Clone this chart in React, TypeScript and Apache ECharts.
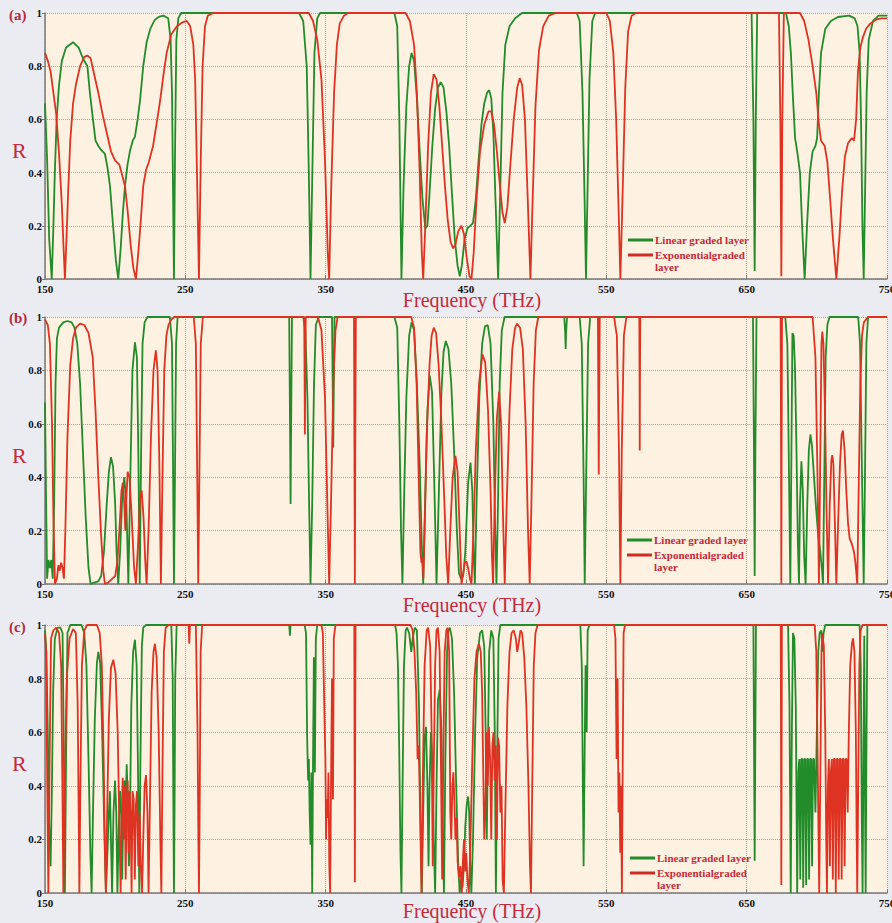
import { useEffect, useRef } from 'react';
import * as echarts from 'echarts';

const xTicks = [150, 250, 350, 450, 550, 650, 750];
const yTicks = [0, 0.2, 0.4, 0.6, 0.8, 1];
const panelLabels = ['(a)', '(b)', '(c)'];
const seriesNames = ['Linear graded layer', 'Exponentialgraded layer'];
const xTitle = 'Frequency (THz)';
const yTitle = 'R';

// Panel (a)
const aLinear = [
  [150, 0.66], [151.5, 0.45], [153, 0.15], [154.8, 0], [156, 0.2], [157, 0.4], [158.3, 0.6], [160, 0.73], [162, 0.82], [165, 0.87], [170, 0.89],
  [174, 0.87], [177, 0.83], [180.2, 0.8], [182, 0.7], [184.4, 0.59], [186, 0.52], [188, 0.5], [190, 0.485], [192.7, 0.47], [194.5, 0.42], [196.3, 0.35],
  [198.5, 0.2], [200.5, 0.07], [202.2, 0], [204, 0.12], [205.5, 0.25], [207, 0.35], [208.8, 0.43], [210.5, 0.48], [212.5, 0.52], [214.1, 0.535],
  [216, 0.6], [217.7, 0.67], [220, 0.8], [222.4, 0.89], [225, 0.94], [228.3, 0.975], [231, 0.985], [234.3, 0.99], [237.8, 0.98], [239.5, 0.9],
  [240.5, 0.7], [241.3, 0.3], [241.9, 0], [242.7, 0.5], [243.6, 0.9], [245, 0.98], [247, 1],
  [331, 1], [334, 0.97], [336.5, 0.8], [338, 0.4], [339.2, 0], [340.5, 0.4], [342, 0.85], [344, 0.98], [346, 1],
  [399, 1], [401, 0.95], [402.5, 0.6], [404, 0], [405.5, 0.35], [407.5, 0.65], [409.5, 0.8], [411.2, 0.85], [413, 0.82], [415, 0.68], [417, 0.48],
  [419, 0.3], [421, 0.19], [422.5, 0.2], [424, 0.32], [426, 0.5], [428, 0.64], [430, 0.72], [432, 0.74], [434, 0.72], [436, 0.63], [438, 0.5],
  [440, 0.32], [442, 0.15], [444, 0.05], [445.6, 0.01], [447, 0.05], [449, 0.15], [451, 0.19], [453, 0.2], [455, 0.21], [457, 0.3], [459, 0.45],
  [461, 0.58], [463, 0.66], [465, 0.7], [466.5, 0.71], [468, 0.68], [469.5, 0.55], [471, 0.3], [472.9, 0], [474.5, 0.35], [476, 0.7], [478, 0.88],
  [481, 0.95], [485, 0.98], [490, 1],
  [529, 1], [531, 0.97], [533, 0.7], [534.5, 0.3], [535.5, 0], [536.5, 0.3], [538, 0.75], [540, 0.97], [542, 1],
  [653.5, 1], [654.8, 0.6], [655.7, 0.03], [656.5, 0.6], [657.5, 1],
  [678, 1], [680, 0.95], [681.5, 0.85], [683, 0.68], [684.5, 0.53], [686, 0.48], [688, 0.4], [689.5, 0.2], [691.3, 0], [693, 0.2], [695, 0.4],
  [697, 0.48], [699, 0.5], [700.2, 0.53], [701.5, 0.7], [703, 0.85], [706, 0.94], [710, 0.97], [715, 0.985], [723, 0.99], [727, 0.98], [729, 0.95],
  [730.5, 0.85], [731.5, 0.6], [732.5, 0.2], [733.4, 0], [734.3, 0.3], [735.5, 0.7], [737, 0.9], [740, 0.97], [744, 0.99], [750, 0.99],
];
const aExp = [
  [150, 0.85], [152, 0.82], [154, 0.78], [156, 0.7], [158, 0.62], [160, 0.47], [162, 0.28], [163.2, 0.12], [164.2, 0], [165.3, 0.15], [166.6, 0.34],
  [168, 0.52], [170, 0.66], [172, 0.73], [175, 0.8], [178, 0.835], [180.2, 0.84], [182.5, 0.83], [185, 0.77], [188, 0.7], [191, 0.62], [194, 0.55],
  [197, 0.48], [200, 0.445], [203, 0.43], [205, 0.39], [207, 0.35], [209, 0.25], [211, 0.13], [213, 0.04], [214.8, 0], [216.5, 0.1], [218, 0.2],
  [220, 0.35], [222, 0.41], [224, 0.44], [227, 0.5], [230, 0.6], [232, 0.67], [234.5, 0.77], [236.7, 0.85], [240, 0.92], [244, 0.95], [248, 0.965],
  [251, 0.97], [253.5, 0.95], [255.7, 0.88], [257, 0.75], [258.3, 0.4], [259.7, 0], [261, 0.45], [262.3, 0.8], [264, 0.95], [266, 0.99], [270, 1],
  [338, 1], [341, 0.97], [344, 0.9], [347, 0.75], [349.5, 0.45], [351.5, 0.1], [352.5, 0], [354, 0.35], [356, 0.7], [358, 0.88], [360, 0.96],
  [363, 0.99], [366, 1],
  [407, 1], [410, 0.97], [413, 0.88], [415, 0.7], [417, 0.4], [418.5, 0.1], [419.5, 0], [421, 0.2], [423, 0.5], [425, 0.7], [427, 0.77], [429, 0.75],
  [431, 0.65], [433, 0.5], [435, 0.35], [437, 0.22], [439, 0.14], [440.8, 0.115], [442.5, 0.13], [444.5, 0.18], [446.8, 0.2], [448.5, 0.17],
  [450.5, 0.08], [452.5, 0.01], [453.9, 0], [455.5, 0.1], [457.5, 0.3], [460, 0.48], [463, 0.58], [466, 0.63], [468, 0.63], [470, 0.58], [472, 0.48],
  [474, 0.36], [476, 0.25], [477.6, 0.21], [479.5, 0.27], [481.5, 0.42], [484, 0.6], [486.5, 0.72], [488.3, 0.755], [490, 0.73], [492, 0.6],
  [494, 0.3], [495.9, 0], [497.5, 0.3], [499.5, 0.65], [502, 0.86], [505, 0.95], [509, 0.99], [514, 1],
  [550, 1], [552.5, 0.97], [555, 0.85], [557, 0.6], [558.8, 0.25], [560, 0], [561.5, 0.3], [563.5, 0.72], [565.5, 0.93], [568, 0.99], [571, 1],
  [673, 1], [674, 0.6], [674.7, 0.01], [675.4, 0.6], [676.5, 1],
  [688, 1], [691, 0.97], [694, 0.9], [697, 0.8], [699.6, 0.7], [701.5, 0.58], [703, 0.52], [705.6, 0.5], [707.5, 0.44], [709.5, 0.3], [711.5, 0.15],
  [713.9, 0], [716, 0.15], [718, 0.33], [720, 0.46], [722.2, 0.51], [723.5, 0.52], [725, 0.53], [726.5, 0.52], [728, 0.6], [729.3, 0.78],
  [731, 0.87], [732.9, 0.91], [735, 0.94], [738, 0.96], [742, 0.975], [746, 0.98], [750, 0.98],
];

// Panel (b)
const bLinear = [
  [150, 0.68], [150.8, 0.3], [151.5, 0.02], [152.5, 0.09], [153.5, 0.06], [154.5, 0.09], [155.5, 0.02], [156.5, 0.3], [157.5, 0.75], [158.5, 0.92],
  [160, 0.96], [163, 0.98], [166, 0.985], [169, 0.98], [171, 0.96], [173, 0.9], [175, 0.75], [177, 0.5], [179, 0.25], [181, 0.06], [182.5, 0],
  [185, 0.005], [188, 0.01], [190, 0.03], [192, 0.12], [194, 0.3], [195.5, 0.42], [197, 0.475], [198.5, 0.44], [200, 0.3], [201, 0.12], [202.2, 0],
  [203.5, 0.12], [205, 0.32], [206.5, 0.4], [208, 0.3], [209.4, 0], [210.8, 0.4], [212.3, 0.8], [214.1, 0.905], [215.5, 0.85], [216.5, 0.5],
  [217.5, 0], [218.5, 0.5], [219.5, 0.9], [221, 0.98], [223, 1],
  [239, 1], [240.5, 0.9], [241.3, 0.4], [241.9, 0], [242.6, 0.4], [243.4, 0.9], [244.5, 1],
  [324, 1], [324.6, 0.6], [325, 0.3], [325.4, 0.6], [326, 1],
  [334, 1], [335.5, 0.95], [337, 0.7], [338.2, 0.3], [339.2, 0], [340.4, 0.3], [341.7, 0.75], [343, 0.97], [345, 1],
  [354.5, 1], [355, 0.75], [355.4, 0.51], [355.8, 0.75], [356.3, 1],
  [399, 1], [401, 0.96], [402.5, 0.6], [403.7, 0.2], [404.7, 0], [406, 0.35], [407.5, 0.7], [409.5, 0.93], [411.2, 0.98], [413, 0.95], [415, 0.75],
  [417, 0.45], [418.5, 0.15], [419.5, 0], [420.8, 0.3], [422.5, 0.65], [424.2, 0.78], [425.8, 0.72], [427.3, 0.4], [429, 0], [430.7, 0.35],
  [432.5, 0.72], [434, 0.87], [435.6, 0.91], [437.5, 0.88], [439.5, 0.75], [441.5, 0.5], [443.5, 0.2], [445, 0.04], [446.5, 0.02], [448, 0.03],
  [449.5, 0.12], [451.5, 0.38], [453.2, 0.455], [454.5, 0.35], [455.5, 0.1], [456.3, 0], [457.5, 0.3], [459.5, 0.7], [461.5, 0.9], [463.5, 0.965],
  [465.5, 0.97], [467.5, 0.9], [469.5, 0.6], [470.8, 0.2], [471.7, 0], [472.8, 0.3], [474, 0.75], [475.5, 0.95], [477.5, 1],
  [520, 1], [520.7, 0.94], [521, 0.88], [521.3, 0.94], [522, 1],
  [531, 1], [532.5, 0.9], [533.8, 0.4], [534.6, 0], [535.5, 0.35], [537, 0.9], [538.5, 1],
  [654.5, 1], [655.2, 0.5], [655.7, 0.03], [656.2, 0.5], [657, 1],
  [677.5, 1], [679, 0.9], [680.2, 0.4], [681.1, 0], [681.9, 0.5], [682.6, 0.94], [683.5, 0.93], [684.5, 0.8], [685.5, 0.5], [686.5, 0.15],
  [687.3, 0], [688, 0.3], [689, 0.46], [690, 0.35], [691, 0.1], [692, 0], [693.2, 0.3], [694.3, 0.5], [695.4, 0.56], [696.5, 0.52], [698, 0.4],
  [699.5, 0.28], [701, 0.18], [702.5, 0.12], [703.7, 0.05], [704.4, 0], [705.3, 0.4], [706.3, 0.85], [707.5, 0.97], [709, 1],
  [729.5, 1], [730.8, 0.9], [732.2, 0.4], [733.4, 0], [734.3, 0.4], [735.3, 0.9], [736.5, 1], [750, 1],
];
const bExp = [
  [150, 0.99], [152, 0.97], [153.5, 0.9], [155, 0.6], [156, 0.25], [157.1, 0], [158.5, 0.02], [159.5, 0.07], [160.5, 0.05], [161.5, 0.08],
  [162.5, 0.06], [163.5, 0.02], [164.5, 0.2], [166, 0.55], [168, 0.82], [170, 0.92], [172, 0.96], [175, 0.975], [178, 0.97], [181, 0.94],
  [184, 0.85], [186, 0.65], [188, 0.4], [190, 0.18], [191.5, 0.05], [192.7, 0], [195, 0.005], [198, 0.02], [200, 0.03], [201.5, 0.08], [203, 0.2],
  [204.5, 0.35], [205.5, 0.38], [206.5, 0.3], [207.2, 0.2], [207.8, 0.3], [208.9, 0.42], [210.2, 0.4], [211.8, 0.25], [213.5, 0.06], [214.8, 0],
  [216.3, 0.15], [217.7, 0.32], [218.9, 0.35], [220.2, 0.25], [221.5, 0.08], [222.4, 0], [223.8, 0.2], [225.5, 0.55], [227.3, 0.8], [229, 0.875],
  [230.2, 0.8], [231.5, 0.45], [232.6, 0], [233.7, 0.4], [235, 0.8], [236.5, 0.93], [238, 0.97], [240, 0.99], [242, 1],
  [256, 1], [257.5, 0.9], [258.5, 0.4], [259.2, 0], [260, 0.4], [261, 0.9], [262.5, 1],
  [334.7, 1], [335, 0.75], [335.2, 0.56], [335.4, 0.75], [335.8, 1],
  [344.5, 1], [347, 0.95], [349.5, 0.7], [351.2, 0.3], [352.5, 0], [353.8, 0.3], [355.5, 0.75], [357, 0.95], [358.5, 1],
  [370.2, 1], [370.5, 0.5], [370.8, 0], [371.1, 0.5], [371.5, 1],
  [411, 1], [413, 0.96], [414.8, 0.75], [416.3, 0.4], [417.5, 0.12], [418.3, 0.08], [419, 0.1], [419.6, 0.02], [420.5, 0.2], [422, 0.55],
  [424, 0.82], [425.5, 0.93], [427, 0.96], [428.7, 0.94], [430.5, 0.82], [432.5, 0.6], [434.5, 0.32], [436, 0.1], [437.3, 0], [438.8, 0.2],
  [440.5, 0.4], [442.5, 0.48], [444, 0.42], [445.5, 0.2], [446.8, 0], [448, 0.04], [449.2, 0.08], [450.3, 0.085], [451.5, 0.06], [452.8, 0.02],
  [453.9, 0], [455.3, 0.2], [457, 0.5], [459.3, 0.75], [461.7, 0.86], [463.7, 0.83], [465.7, 0.65], [467.5, 0.35], [468.5, 0.1], [469.3, 0],
  [470.4, 0.3], [472, 0.62], [473.6, 0.72], [475, 0.6], [476.4, 0.25], [477.6, 0], [479, 0.3], [481, 0.65], [483, 0.88], [485, 0.96],
  [486.4, 0.975], [488.5, 0.96], [490.5, 0.88], [492.5, 0.6], [494.2, 0.2], [495.4, 0], [496.6, 0.3], [498.2, 0.75], [499.8, 0.95], [501.5, 1],
  [544, 1], [544.3, 0.7], [544.6, 0.41], [544.9, 0.7], [545.3, 1],
  [555.5, 1], [557.5, 0.93], [559, 0.5], [560, 0], [561, 0.5], [562.5, 0.93], [564.3, 1],
  [573.5, 1], [573.7, 0.75], [573.8, 0.5], [573.95, 0.75], [574.2, 1],
  [674.2, 1], [674.5, 0.5], [674.7, 0], [674.9, 0.5], [675.2, 1],
  [697, 1], [699, 0.85], [700.5, 0.4], [701.5, 0], [702.5, 0.5], [703.3, 0.9], [703.9, 0.945], [704.7, 0.9], [705.8, 0.65], [707, 0.25], [708, 0],
  [709.2, 0.3], [710.3, 0.46], [711, 0.483], [711.8, 0.45], [713, 0.2], [713.9, 0], [715, 0.2], [716.5, 0.45], [717.7, 0.56], [718.6, 0.575],
  [719.8, 0.5], [721, 0.35], [722.2, 0.23], [723.4, 0.17], [725, 0.15], [726.5, 0.12], [727.5, 0.08], [728.8, 0], [729.8, 0.35], [731, 0.75],
  [732.2, 0.93], [733.5, 0.98], [736.4, 1], [750, 1],
];

// Panel (c)
const cLinear = [
  [150, 0.98], [151, 0.9], [152, 0.6], [153, 0.25], [154, 0.1], [154.8, 0.35], [155.8, 0.75], [157, 0.95], [159, 0.99], [161, 0.99], [162.5, 0.97],
  [163.5, 0.5], [164.2, 0], [165, 0.5], [166, 0.97], [168, 1], [176, 1], [178, 0.97], [179.5, 0.85], [181, 0.5], [182.3, 0.15], [183.2, 0],
  [184.2, 0.3], [185.5, 0.65], [187, 0.86], [188, 0.9], [189.3, 0.86], [190.5, 0.65], [192, 0.3], [193.4, 0], [194.5, 0.15], [195.5, 0.3],
  [196.3, 0.38], [197, 0.2], [197.8, 0], [198.8, 0.3], [199.9, 0.42], [200.8, 0.3], [201.6, 0], [202.6, 0.25], [203.5, 0.38], [204.3, 0.3],
  [205, 0.05], [205.8, 0.3], [206.6, 0.42], [207.4, 0.3], [208.2, 0.48], [209, 0.35], [209.8, 0.1], [210.6, 0.3], [211.5, 0.7], [212.8, 0.9],
  [214.1, 0.945], [215.3, 0.85], [216.3, 0.45], [217.2, 0], [218, 0.5], [219, 0.92], [220, 0.99], [222, 1],
  [240, 1], [241, 0.8], [241.5, 0.3], [241.9, 0], [242.3, 0.3], [242.8, 0.8], [243.8, 1],
  [324, 1], [324.3, 0.98], [324.5, 0.96], [324.7, 0.98], [325, 1],
  [335, 1], [336, 0.97], [336.8, 0.58], [337.5, 0.42], [338, 0.5], [338.6, 0.3], [339.2, 0.18], [339.8, 0.45], [340.4, 0], [341, 0.5],
  [341.6, 0.88], [342.3, 0.45], [343, 0.95], [344, 1],
  [399.5, 1], [400.5, 0.97], [401.5, 0.85], [402.5, 0.5], [403.3, 0.15], [404, 0], [404.8, 0.4], [405.8, 0.85], [407, 0.98], [408, 0.99],
  [409.5, 0.97], [411, 0.9], [412, 0.95], [413.5, 0.99], [415, 0.98], [416.5, 0.7], [417.5, 0.3], [418.5, 0], [419.5, 0.3], [420.5, 0.58],
  [421.5, 0.62], [422.5, 0.4], [423.3, 0.1], [424, 0.4], [425, 0.6], [426, 0.5], [427, 0.2], [428, 0], [429, 0.4], [430, 0.72], [431.3, 0.76],
  [432.5, 0.6], [433.5, 0.2], [434.3, 0], [435.3, 0.5], [436.5, 0.9], [437.5, 0.98], [438.5, 0.99], [440, 0.95], [441.5, 0.75], [443, 0.4],
  [444.5, 0.1], [445.5, 0], [446.5, 0.05], [447.5, 0.02], [448.5, 0.1], [449.5, 0.25], [450.5, 0.33], [451.5, 0.36], [452.3, 0.3], [453, 0.1],
  [453.8, 0], [455, 0.2], [456.5, 0.6], [458, 0.88], [460, 0.97], [461.5, 0.98], [463, 0.92], [464, 0.6], [464.8, 0.2], [465.5, 0.5],
  [466.5, 0.9], [468, 0.98], [469.5, 0.95], [470.5, 0.6], [471.3, 0], [472.2, 0.5], [473.2, 0.95], [474.5, 1],
  [531.5, 1], [532.5, 0.85], [533.2, 0.45], [533.8, 0.1], [534.5, 0.5], [535.2, 0.85], [536, 0.6], [536.7, 0.98], [538, 1],
  [654.8, 1], [655.3, 0.5], [655.7, 0.12], [656.1, 0.5], [656.6, 1],
  [679.5, 1], [680.5, 0.7], [681.4, 0], [682.2, 0.6], [683, 0.97], [684, 0.95], [685, 0.7], [686, 0], [686.8, 0.45], [687.5, 0.5], [688.2, 0.05],
  [688.9, 0.5], [689.6, 0.5], [690.3, 0.02], [691, 0.5], [691.7, 0.5], [692.4, 0.03], [693.1, 0.5], [693.8, 0.5], [694.5, 0.05], [695.2, 0.5],
  [695.9, 0.5], [696.6, 0.1], [697.3, 0.5], [698, 0.5], [699, 0.3], [700, 0.6], [701, 0.9], [702, 0.97], [703.2, 0.98], [704, 0.9],
  [704.8, 0.97], [706, 1],
  [730.5, 1], [731.3, 0.85], [732, 0.3], [732.6, 0], [733.2, 0.5], [733.8, 0.96], [734.3, 0.4], [734.8, 0], [735.3, 0.5], [736, 1], [750, 1],
];
const cExp = [
  [150, 0.97], [150.8, 0.9], [151.6, 0.4], [152.4, 0], [153.3, 0.5], [154.3, 0.95], [156, 0.98], [158, 0.99], [160, 0.97], [161.5, 0.85],
  [162.4, 0.4], [163.1, 0], [164, 0.4], [165.5, 0.8], [167.5, 0.95], [170, 0.985], [172, 0.97], [173.3, 0.7], [174, 0.3], [174.5, 0],
  [175.2, 0.4], [176.3, 0.85], [178, 0.98], [180, 1], [187, 1], [189, 0.97], [190.5, 0.85], [191.8, 0.5], [192.7, 0.15], [193.4, 0],
  [194.3, 0.3], [195.5, 0.65], [197, 0.84], [198.7, 0.87], [200.3, 0.82], [201.8, 0.6], [203, 0.25], [203.9, 0], [204.7, 0.3], [205.4, 0.43],
  [206.1, 0.2], [206.8, 0.4], [207.5, 0.05], [208.2, 0.35], [208.9, 0.42], [209.6, 0.15], [210.3, 0.38], [211, 0.3], [211.7, 0], [212.4, 0.38],
  [213.2, 0.35], [214, 0.05], [214.8, 0.33], [215.6, 0.38], [216.5, 0.1], [217.5, 0.3], [218.3, 0.1], [219.2, 0], [220, 0.2], [221, 0.4],
  [222, 0.44], [223, 0.3], [223.8, 0], [224.8, 0.35], [226, 0.75], [227.3, 0.9], [228.3, 0.93], [229.5, 0.88], [231, 0.6], [232.2, 0.2],
  [232.9, 0], [233.8, 0.5], [234.7, 0.9], [236, 0.99], [238, 1],
  [252.3, 1], [252.6, 0.96], [252.8, 0.93], [253, 0.96], [253.3, 1],
  [257.5, 1], [258.7, 0.6], [259.3, 0.2], [259.7, 0], [260.2, 0.3], [260.9, 0.9], [262, 1],
  [347, 1], [348, 0.97], [349, 0.7], [349.8, 0.5], [350.3, 0.2], [350.8, 0.35], [351.4, 0.28], [352, 0.45], [352.6, 0.1], [353.2, 0],
  [353.8, 0.4], [354.5, 0.8], [355.2, 0.35], [355.8, 0.95], [357, 1],
  [370.4, 1], [370.6, 0.5], [370.8, 0.04], [371, 0.5], [371.3, 1],
  [410.5, 1], [412, 0.98], [413.3, 0.9], [414.5, 0.75], [415.5, 0.5], [416.3, 0.55], [417.3, 0.3], [418.3, 0], [419.3, 0.45], [420.5, 0.85],
  [422, 0.98], [423, 0.99], [424.5, 0.92], [425.5, 0.6], [426.3, 0.1], [427, 0.45], [428, 0.85], [429, 0.98], [430, 0.99], [431.2, 0.9],
  [432.2, 0.45], [433, 0.05], [433.8, 0.5], [434.8, 0.9], [436, 0.98], [437, 0.99], [438, 0.9], [438.8, 0.3], [439.5, 0.2], [440.3, 0.4],
  [441, 0.45], [441.7, 0.35], [442.5, 0.2], [443.3, 0.28], [444, 0.12], [445, 0.06], [446, 0.1], [447, 0], [447.8, 0.12], [448.6, 0.2],
  [449.4, 0.08], [450.2, 0.15], [451, 0.05], [452, 0], [453, 0.15], [454.5, 0.5], [456, 0.8], [457.5, 0.9], [459.2, 0.93], [460.5, 0.9],
  [461.5, 0.75], [462.3, 0.45], [463, 0.2], [463.8, 0.3], [464.6, 0.6], [465.5, 0.4], [466.3, 0.62], [467.2, 0.5], [468, 0.2], [468.8, 0.55],
  [469.6, 0.6], [470.4, 0.42], [471.2, 0.55], [472, 0.2], [472.8, 0.58], [473.6, 0.55], [474.5, 0.3], [475.3, 0.4], [476.1, 0.05], [477, 0],
  [478, 0.3], [479.5, 0.7], [481, 0.9], [482.5, 0.97], [484, 0.98], [485.5, 0.95], [486.5, 0.9], [487.5, 0.93], [488.8, 0.98], [490, 0.97],
  [491.5, 0.88], [493, 0.7], [494.5, 0.4], [495.6, 0.1], [496.3, 0], [497.2, 0.4], [498.3, 0.85], [499.5, 0.97], [501, 1],
  [555.5, 1], [556.5, 0.95], [557.3, 0.5], [558, 0.8], [558.7, 0.3], [559.3, 0.45], [559.9, 0.15], [560.5, 0.4], [561.1, 0], [561.7, 0.5],
  [562.3, 0.97], [563.3, 1],
  [674.3, 1], [674.5, 0.5], [674.7, 0.03], [674.9, 0.5], [675.1, 1],
  [698.5, 1], [699.6, 0.9], [700.8, 0.4], [701.7, 0], [702.6, 0.5], [703.3, 0.9], [703.9, 0.97], [705, 0.92], [706, 0.6], [706.7, 0.2],
  [707.2, 0], [707.9, 0.4], [708.6, 0.5], [709.3, 0.1], [710, 0.45], [710.7, 0.5], [711.4, 0.05], [712.1, 0.5], [712.8, 0.5], [713.5, 0],
  [714.2, 0.5], [714.9, 0.5], [715.6, 0.05], [716.3, 0.5], [717, 0.5], [717.7, 0.05], [718.4, 0.5], [719.1, 0.5], [719.8, 0.1], [720.5, 0.5],
  [721.2, 0.5], [722, 0.3], [722.8, 0.6], [723.8, 0.85], [725, 0.93], [725.8, 0.95], [726.8, 0.9], [727.8, 0.6], [728.4, 0.2], [728.8, 0],
  [729.5, 0.4], [730.3, 0.85], [731.2, 0.98], [732.5, 1], [750, 1],
];

const panels = [
  { linear: aLinear, exp: aExp },
  { linear: bLinear, exp: bExp },
  { linear: cLinear, exp: cExp },
];

export default function App() {
  const ref = useRef<HTMLDivElement>(null);
  useEffect(() => {
    if (!ref.current) return;
    const chart = echarts.init(ref.current, null, { renderer: 'svg' });
    const serif = '"Liberation Serif", "DejaVu Serif", serif';
    const green = '#228B2A';
    const red = '#DE3322';
    const textRed = '#C42A3A';
    const gridPos = [
      { top: 13, height: 266, label: 15, r: 150, leg: 240, legX: 628, gap: 15 },
      { top: 317, height: 267, label: 318, r: 455, leg: 540, legX: 627, gap: 15 },
      { top: 625, height: 268, label: 627, r: 763, leg: 858, legX: 630, gap: 12 },
    ];
    const grid = gridPos.map((g) => ({
      left: 45,
      right: 5,
      top: g.top,
      height: g.height,
      show: true,
      backgroundColor: '#FDF2E1',
      borderWidth: 0,
      containLabel: false,
      outerBoundsMode: 'none',
    }));
    const xAxis = gridPos.map((g, i) => ({
      type: 'value',
      gridIndex: i,
      min: xTicks[0],
      max: xTicks[xTicks.length - 1],
      interval: xTicks[1] - xTicks[0],
      axisLine: { show: true, lineStyle: { color: '#7A7A7A', width: 1.5 } },
      axisTick: { show: true, inside: true, length: 4, lineStyle: { color: '#7A7A7A' } },
      axisLabel: { fontFamily: serif, fontWeight: 'bold', fontSize: 11, lineHeight: 10, color: '#111', margin: 5 },
      splitLine: { show: true, lineStyle: { type: 'dotted', color: '#A5A5A5', width: 1 } },
      name: xTitle,
      nameLocation: 'middle',
      nameGap: g.gap,
      nameMoveOverlap: false,
      nameTextStyle: { fontFamily: serif, fontSize: 20, lineHeight: 12, color: textRed, padding: [0, 0, 0, 12] },
    }));
    const yAxis = gridPos.map((_, i) => ({
      type: 'value',
      gridIndex: i,
      min: yTicks[0],
      max: yTicks[yTicks.length - 1],
      interval: yTicks[1] - yTicks[0],
      axisLine: { show: true, lineStyle: { color: '#7A7A7A', width: 1.5 } },
      axisTick: { show: true, inside: false, length: 3, lineStyle: { color: '#7A7A7A' } },
      axisLabel: { fontFamily: serif, fontWeight: 'bold', fontSize: 11, lineHeight: 10, color: '#111', margin: 3 },
      splitLine: { show: true, lineStyle: { type: 'dotted', color: '#A5A5A5', width: 1 } },
    }));
    const series: any[] = [];
    panels.forEach((p, i) => {
      series.push({
        type: 'line', name: seriesNames[0], xAxisIndex: i, yAxisIndex: i, data: p.linear,
        showSymbol: false, symbol: 'none', lineStyle: { color: green, width: 1.8 }, itemStyle: { color: green },
      });
      series.push({
        type: 'line', name: seriesNames[1], xAxisIndex: i, yAxisIndex: i, data: p.exp,
        showSymbol: false, symbol: 'none', lineStyle: { color: red, width: 1.8 }, itemStyle: { color: red },
      });
    });
    const graphic: any[] = [];
    gridPos.forEach((g, i) => {
      graphic.push({
        type: 'text', x: 9, y: g.label,
        style: { text: panelLabels[i], font: `bold 15px ${serif}`, fill: '#B52B3C', verticalAlign: 'middle' },
      });
      graphic.push({
        type: 'text', x: 12, y: g.r,
        style: { text: yTitle, font: `22px ${serif}`, fill: textRed, verticalAlign: 'middle' },
      });
      graphic.push({
        type: 'line', shape: { x1: g.legX, y1: g.leg, x2: g.legX + 25, y2: g.leg },
        style: { stroke: green, lineWidth: 3 },
      });
      graphic.push({
        type: 'line', shape: { x1: g.legX, y1: g.leg + 15, x2: g.legX + 25, y2: g.leg + 15 },
        style: { stroke: '#D02A22', lineWidth: 3 },
      });
      graphic.push({
        type: 'text', x: g.legX + 27, y: g.leg,
        style: { text: seriesNames[0], font: `bold 11px ${serif}`, fill: textRed, verticalAlign: 'middle' },
      });
      graphic.push({
        type: 'text', x: g.legX + 27, y: g.leg + 15,
        style: { text: 'Exponentialgraded', font: `bold 11px ${serif}`, fill: textRed, verticalAlign: 'middle' },
      });
      graphic.push({
        type: 'text', x: g.legX + 27, y: g.leg + 27,
        style: { text: 'layer', font: `bold 11px ${serif}`, fill: textRed, verticalAlign: 'middle' },
      });
    });
    chart.setOption({
      animation: false,
      backgroundColor: '#EBEBF2',
      grid,
      xAxis,
      yAxis,
      series,
      graphic,
    });
    return () => chart.dispose();
  }, []);
  return (
    <div
      ref={ref}
      style={{ position: 'absolute', left: 0, top: 0, width: 892, height: 923, background: '#EBEBF2' }}
    />
  );
}
